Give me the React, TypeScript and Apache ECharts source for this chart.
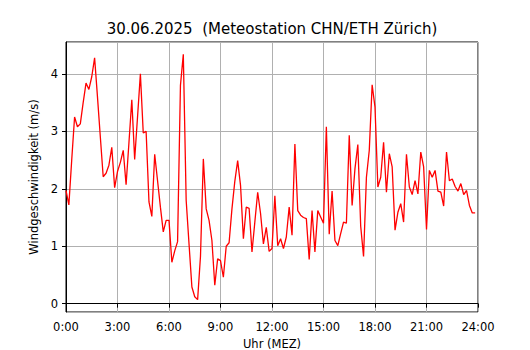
import React, { useEffect, useRef } from "react";
import * as echarts from "echarts";

// wind speed (m/s), every 10 minutes from 0:00 to 23:50
const windSpeed: number[] = [
  1.97, 1.72, 2.5, 3.25, 3.08, 3.13, 3.5, 3.84, 3.73, 3.95, 4.28, 3.6,
  2.9, 2.21, 2.27, 2.41, 2.72, 2.02, 2.3, 2.46, 2.67, 2.07, 2.8, 3.55,
  2.51, 3.25, 4.0, 2.97, 3.0, 1.77, 1.52, 2.6, 2.14, 1.68, 1.25, 1.45,
  1.45, 0.72, 0.92, 1.08, 3.8, 4.34, 1.8, 1.04, 0.29, 0.12, 0.07, 0.82,
  2.52, 1.65, 1.45, 1.1, 0.32, 0.78, 0.75, 0.46, 1.0, 1.06, 1.65, 2.13,
  2.49, 2.06, 1.13, 1.68, 1.66, 0.9, 1.42, 1.94, 1.57, 1.04, 1.33, 0.91,
  0.96, 1.88, 1.01, 1.13, 0.96, 1.16, 1.68, 1.19, 2.78, 1.62, 1.54, 1.5,
  1.48, 0.77, 1.62, 0.9, 1.62, 1.51, 1.4, 3.08, 1.21, 1.96, 1.1, 1.01,
  1.22, 1.42, 1.4, 2.93, 1.71, 2.35, 2.77, 1.35, 0.82, 2.2, 2.67, 3.81,
  3.42, 2.03, 2.2, 2.81, 1.94, 2.61, 2.38, 1.28, 1.59, 1.74, 1.42, 2.6,
  2.03, 1.9, 2.14, 1.91, 2.64, 2.38, 1.29, 2.32, 2.2, 2.32, 1.96, 1.94,
  1.7, 2.64, 2.14, 2.17, 2.04, 1.96, 2.09, 1.9, 1.97, 1.71, 1.58, 1.58,
];
const stepMinutes = 10;
const xTickHours: number[] = [0, 3, 6, 9, 12, 15, 18, 21, 24];
const yTicks: number[] = [0, 1, 2, 3, 4];

const titleText = "30.06.2025  (Meteostation CHN/ETH Zürich)";
const xName = "Uhr (MEZ)";
const yName = "Windgeschwindigkeit (m/s)";

const FONT = "DejaVu Sans";

export default function App() {
  const ref = useRef<HTMLDivElement>(null);
  useEffect(() => {
    document.body.style.margin = "0";
    if (!ref.current) return;
    const chart = echarts.init(ref.current, undefined, { renderer: "svg" });
    const data = windSpeed.map((v, i) => [(i * stepMinutes) / 60, v]);
    chart.setOption({
      animation: false,
      backgroundColor: "#ffffff",
      textStyle: { fontFamily: FONT },
      title: {
        text: titleText,
        left: 272,
        top: 21,
        padding: 0,
        textAlign: "center",
        textStyle: { fontFamily: FONT, fontSize: 15, fontWeight: "normal", color: "#000" },
      },
      grid: {
        left: 66,
        right: 52,
        top: 42,
        bottom: 38,
        containLabel: false,
        outerBoundsMode: "none",
        show: true,
        borderColor: "#000",
        borderWidth: 1,
        backgroundColor: "transparent",
      },
      xAxis: {
        type: "value",
        min: 0,
        max: 24,
        interval: 3,
        name: xName,
        nameLocation: "middle",
        nameGap: 25,
        nameTextStyle: { fontFamily: FONT, fontSize: 11.5, color: "#000" },
        axisLine: { show: true, lineStyle: { color: "#000", width: 1 } },
        axisTick: { show: true, inside: false, length: 4, lineStyle: { color: "#000" } },
        axisLabel: {
          margin: 9,
          fontFamily: FONT,
          fontSize: 11.5,
          color: "#000",
          formatter: (v: number) => (xTickHours.includes(v) ? `${v}:00` : ""),
        },
        splitLine: { show: true, lineStyle: { color: "#b0b0b0", width: 1 } },
      },
      yAxis: {
        type: "value",
        min: -0.145,
        max: 4.555,
        name: yName,
        nameLocation: "middle",
        nameGap: 25,
        nameTextStyle: { fontFamily: FONT, fontSize: 11.5, color: "#000" },
        axisLine: { show: true, lineStyle: { color: "#000", width: 1 } },
        axisTick: { show: true, inside: false, length: 4, lineStyle: { color: "#000" } },
        axisLabel: {
          margin: 8,
          fontFamily: FONT,
          fontSize: 11.5,
          color: "#000",
          showMinLabel: false,
          showMaxLabel: false,
          formatter: (v: number) => (yTicks.includes(v) ? String(v) : ""),
        },
        splitLine: { show: true, lineStyle: { color: "#b0b0b0", width: 1 } },
      },
      series: [
        {
          type: "line",
          data,
          showSymbol: false,
          symbol: "none",
          lineStyle: { color: "#ff0000", width: 1.3 },
          z: 3,
        },
      ],
    });
    return () => chart.dispose();
  }, []);
  return <div ref={ref} style={{ width: 530, height: 350 }} />;
}
